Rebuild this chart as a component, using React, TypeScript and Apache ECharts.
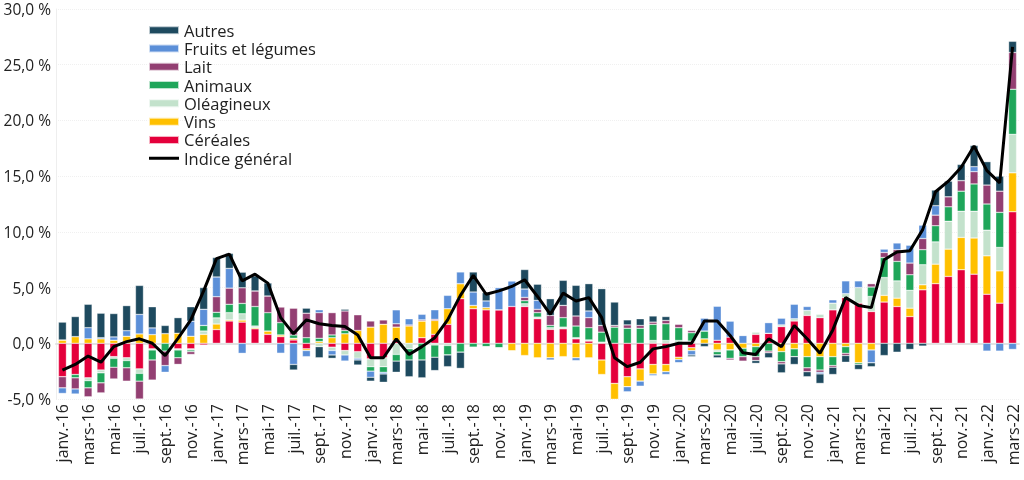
import React, { useEffect, useRef } from "react";
import * as echarts from "echarts";

const monthNames = ["janv.", "févr.", "mars", "avr.", "mai", "juin", "juil.", "août", "sept.", "oct.", "nov.", "déc."];
const years = ["16", "17", "18", "19", "20", "21", "22"];
const categories: string[] = [];
years.forEach((y) => monthNames.forEach((m) => categories.push(m + "-" + y)));
categories.length = 75;

const cereales = [-3.0,-2.8,-3.1,-2.4,-1.2,-1.3,-2.3,-0.5,0,-0.5,
  -0.5,-0.15,1.23,2.0,1.9,1.3,0.8,0.6,0.3,-0.5,
  0,-0.35,-0.65,-0.75,-1.4,-1.3,0.25,0,0.5,0.8,
  1.7,4.0,3.1,3.0,3.0,3.3,3.3,2.2,1.25,1.3,
  0.4,0.2,-1.5,-3.6,-3.0,-2.3,-1.9,-1.9,-1.25,-0.4,
  0,0.27,0.55,0,0.8,0.9,1.5,2.0,2.5,2.3,
  3.0,4.1,3.6,2.85,3.7,3.3,2.4,4.8,5.35,6.0,
  6.6,6.2,4.4,3.6,11.8];
const vins = [0.3,0.6,0.4,0.4,0.27,0.63,0.84,0.78,0.87,0.9,
  0.63,0.8,0.5,0.1,0.18,0.1,0.3,0.15,0.15,-0.15,
  0.15,0.5,0.85,1.15,1.45,1.7,1.2,1.55,1.5,1.25,
  1.4,1.35,0.3,0.2,0,-0.7,-1.1,-1.3,-1.3,-1.2,
  -1.3,-1.3,-1.3,-1.5,-0.9,-1.1,-0.85,-0.65,-0.2,-0.25,
  0.4,-0.6,-0.6,-0.45,-0.3,0,-0.75,-0.5,-1.2,-1.2,
  -1.2,-0.3,-1.75,-0.6,0.6,0.75,0.75,0.45,1.75,2.45,
  2.9,3.25,3.45,2.9,3.5];
const oleagineux = [0,0,-0.25,-0.25,-0.15,-0.25,-0.4,-0.1,0,-0.1,
  -0.1,0.3,0.55,0.65,0.57,0.15,0,0,0,0,
  -0.3,-0.3,-0.4,-0.6,-0.7,-0.8,-1.0,-0.5,0,-0.15,
  -0.2,0,0,0,0,0,0.25,0.15,0.15,0.15,
  0.1,0.1,0.1,0,0,0,0.25,0.25,0.25,0.2,
  0,-0.15,0,0,0.2,0,0.15,0.2,0.45,0.3,
  0.6,0.35,1.4,1.35,1.6,1.55,1.6,1.8,2.0,2.5,
  2.35,2.4,2.3,2.1,3.45];
const animaux = [0,-0.3,-0.65,-0.9,-0.8,-0.65,-0.7,-0.9,-0.7,-0.7,
  -0.15,0.5,0.5,0.75,0.93,1.75,1.65,1.1,0.3,0.5,
  0.3,0.25,0.3,0,-0.4,-0.5,-0.6,-1.0,-1.5,-1.1,
  -0.85,-0.8,-0.35,-0.3,-0.4,0,0.27,0.4,0.2,0.85,
  1.05,1.1,0.9,1.45,1.35,1.35,1.45,1.5,1.15,0.75,
  0.7,-0.3,-0.75,-0.75,-0.9,-0.7,-0.9,-0.7,-1.0,-1.2,
  -0.8,-0.6,-0.15,0.85,1.8,1.75,1.4,1.35,1.45,1.3,
  1.8,2.45,2.35,3.15,4.05];
const lait = [-1.0,-1.0,-0.8,-0.9,-1.05,-1.2,-1.6,-1.8,-1.3,-0.6,
  -0.25,0,1.4,1.45,1.4,1.4,1.5,1.4,2.4,2.2,
  2.3,2.0,1.75,1.4,0.55,0.4,0.3,0.1,0.1,0.1,
  0,0,0,0,0,0,0.3,0.3,0.9,1.1,
  0.9,0.9,0.6,0.15,0.3,0.25,0.2,0.3,0.3,0.2,
  0,0,-0.15,-0.4,-0.35,-0.15,-0.2,0,-0.35,-0.2,
  -0.15,-0.2,0,0.3,0.45,1.05,1.05,1.0,0.95,0.9,
  0.95,1.1,1.7,1.9,3.3];
const fruits = [-0.5,-0.45,1.0,0.1,0.3,0.5,1.75,0.6,-0.6,0,
  1.35,1.45,1.77,1.77,-0.9,0,0,-0.9,-1.9,-0.55,
  0.25,-0.4,-0.55,-0.15,-0.55,-0.15,1.25,0.55,0.5,0.85,
  1.2,1.05,1.2,0.6,2.0,2.3,0.75,0.8,-0.2,0,
  -0.25,0.6,0,0,-0.45,-0.45,-0.15,-0.25,-0.3,-0.4,
  1.15,3.05,1.45,0.7,0,0.95,0.6,1.3,0.35,-0.15,
  0.3,1.15,0.6,-1.15,0.3,0.6,1.6,1.2,0.85,0,
  0,0.45,-0.7,-0.7,-0.55];
const autres = [1.6,1.8,2.1,2.2,2.1,2.25,2.6,1.9,0.73,1.4,
  1.3,1.95,1.75,1.35,1.4,1.35,1.15,0,-0.5,0.45,
  -1.0,-0.3,0.15,-0.45,-0.35,-0.75,-1.0,-1.5,-1.6,-1.2,
  -1.05,-1.45,1.8,0.75,0,0,1.75,1.45,1.5,2.25,
  2.75,2.45,3.3,2.1,0.45,0.6,0.55,0.35,0,-0.15,
  -0.3,-0.25,0,0,-0.25,-0.45,-0.8,-0.7,-0.45,-0.85,
  -0.65,-0.6,-0.45,-0.35,-1.1,-0.8,-0.55,-0.25,1.4,1.4,
  1.45,1.9,2.1,1.35,1.0];
const indice = [-2.4,-1.9,-1.15,-1.7,-0.3,0.15,0.4,0.0,-1.1,0.45,
  2.1,4.7,7.6,8.0,5.6,6.2,5.4,2.3,0.85,2.1,
  1.75,1.6,1.5,0.75,-1.3,-1.3,0.4,-1.0,-0.3,0.5,
  2.1,4.3,6.1,4.4,4.7,5.1,5.7,4.2,2.6,4.5,
  3.8,4.1,2.3,-1.3,-2.1,-1.7,-0.5,-0.3,0.0,0.0,
  2.0,2.0,0.7,-0.85,-1.0,0.4,-0.3,1.6,0.4,-0.9,
  1.2,4.1,3.4,3.2,7.5,8.2,8.3,10.2,13.6,14.55,
  15.8,17.7,15.5,14.4,26.6];

const barSeries = [
  { name: "Céréales", data: cereales, color: "#E4003B" },
  { name: "Vins", data: vins, color: "#FFC000" },
  { name: "Oléagineux", data: oleagineux, color: "#C3E2CC" },
  { name: "Animaux", data: animaux, color: "#1FA65A" },
  { name: "Lait", data: lait, color: "#933F72" },
  { name: "Fruits et légumes", data: fruits, color: "#5B8FD8" },
  { name: "Autres", data: autres, color: "#1E4A5F" },
];
const legendOrder = ["Autres", "Fruits et légumes", "Lait", "Animaux", "Oléagineux", "Vins", "Céréales", "Indice général"];
const lineIcon = "path://M0,2.6H30V5.4H0Z M0,0H0.01V0.01H0Z M29.99,7.99H30V8H29.99Z";

export default function App() {
  const ref = useRef<HTMLDivElement>(null);
  useEffect(() => {
    if (!ref.current) return;
    const chart = echarts.init(ref.current, undefined, { renderer: "svg" });
    const font = "'Open Sans', 'Noto Sans', sans-serif";
    chart.setOption({
      animation: false,
      textStyle: { fontFamily: font },
      grid: { left: 56, right: 5, top: 9, bottom: 81 },
      legend: {
        orient: "vertical",
        left: 148,
        top: 21,
        padding: 0,
        itemWidth: 30,
        itemHeight: 8,
        itemGap: 0,
        data: legendOrder.map((n) =>
          n === "Indice général"
            ? { name: n, icon: lineIcon, itemStyle: { color: "#000" } }
            : { name: n, icon: "rect" }
        ),
        textStyle: { fontSize: 16.5, color: "#222", fontFamily: font, lineHeight: 18.3 },
      },
      xAxis: {
        type: "category",
        data: categories,
        axisLine: { lineStyle: { color: "#e3e3e3", width: 2 } },
        axisTick: { show: false },
        axisLabel: { interval: 1, rotate: 90, fontSize: 16, color: "#222", margin: 5, fontFamily: font },
      },
      yAxis: {
        type: "value",
        min: -5,
        max: 30,
        interval: 5,
        axisLine: { show: true, lineStyle: { color: "#eeeeee", width: 1 } },
        axisLabel: {
          fontSize: 15.5,
          color: "#222",
          margin: 5,
          fontFamily: font,
          formatter: (v: number) => v.toFixed(1).replace(".", ",") + " %",
        },
        splitLine: { show: true, lineStyle: { color: "#f0f0f0", type: "dotted" } },
      },
      series: [
        ...barSeries.map((s) => ({
          name: s.name,
          type: "bar",
          stack: "total",
          data: s.data,
          barWidth: "62%",
          itemStyle: { color: s.color, borderColor: "rgba(255,255,255,0.7)", borderWidth: 0.5 },
        })),
        {
          name: "Indice général",
          type: "line",
          data: indice,
          symbol: "none",
          z: 10,
          lineStyle: { color: "#000", width: 3 },
          itemStyle: { color: "#000" },
        },
      ],
    });
    return () => chart.dispose();
  }, []);
  return <div ref={ref} style={{ position: "fixed", left: 0, top: 0, width: 1024, height: 480 }} />;
}
